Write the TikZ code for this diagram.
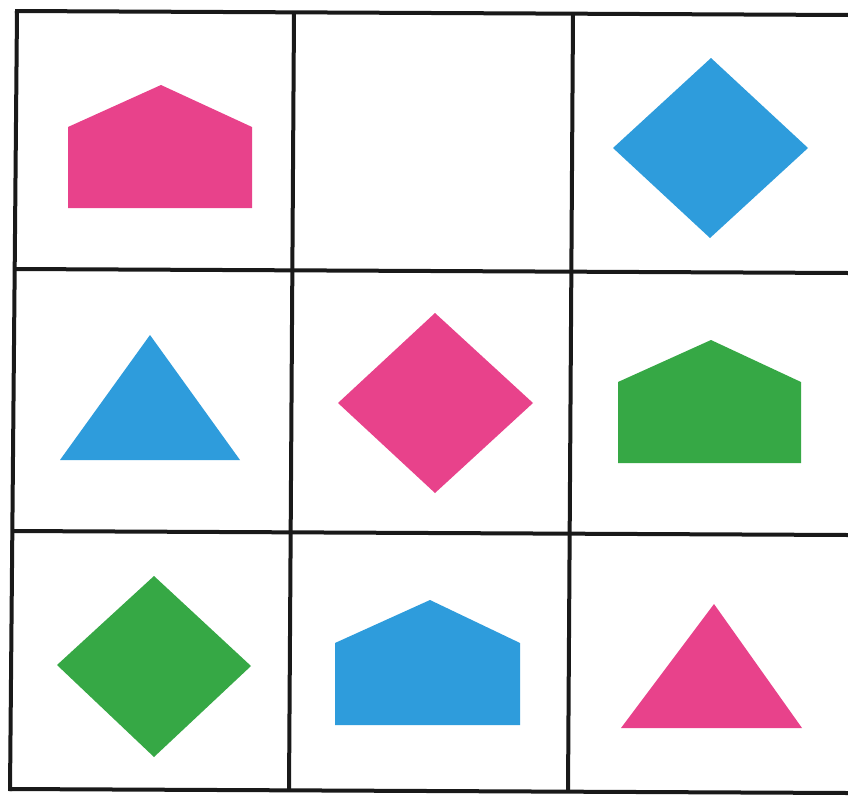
\documentclass[tikz,border=0pt]{standalone}
\definecolor{pinkc}{HTML}{E8428B}
\definecolor{bluec}{HTML}{2E9CDC}
\definecolor{greenc}{HTML}{36A845}
\begin{document}
\begin{tikzpicture}[x=1pt,y=-1pt,
  gridline/.style={line width=4pt,black!90},
  pinkshape/.style={fill=pinkc},
  blueshape/.style={fill=bluec},
  greenshape/.style={fill=greenc}]
\useasboundingbox (0,0) rectangle (848,795);
\fill[white] (0,0) rectangle (848,795);
% grid
\draw[gridline] (15,11) -- (848,15);
\draw[gridline] (15,269) -- (848,273);
\draw[gridline] (12,531) -- (848,535);
\draw[gridline] (10,789) -- (848,793);
\draw[gridline] (17,11) -- (10,791);
\draw[gridline] (294,13) -- (289,791);
\draw[gridline] (573,14) -- (568,792);
% row 1
\fill[pinkshape] (68,208) -- (68,127) -- (161,85) -- (252,127) -- (252,208) -- cycle;
\fill[bluec] (711,58) -- (808,148) -- (710,238) -- (613,148) -- cycle;
% row 2
\fill[blueshape] (60,460) -- (150,335) -- (240,460) -- cycle;
\fill[pinkshape] (435,313) -- (533,403) -- (435,493) -- (338,403) -- cycle;
\fill[greenshape] (618,463) -- (618,382) -- (711,340) -- (801,382) -- (801,463) -- cycle;
% row 3
\fill[greenshape] (154,576) -- (251,666) -- (154,757) -- (57,665) -- cycle;
\fill[blueshape] (335,725) -- (335,643) -- (430,600) -- (520,643) -- (520,725) -- cycle;
\fill[pinkshape] (621,728) -- (714,604) -- (802,728) -- cycle;
\end{tikzpicture}
\end{document}
